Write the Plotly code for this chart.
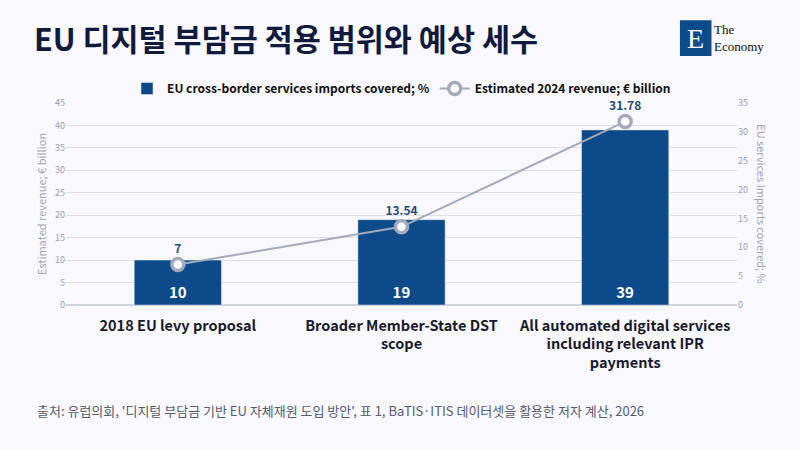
import plotly.graph_objects as go

# 데이터
categories = ["2018 EU levy proposal",
              "Broader Member-State DST<br>scope",
              "All automated digital services<br>including relevant IPR<br>payments"]
imports_covered = [10, 19, 39]        # %
revenue_2024 = [7, 13.54, 31.78]      # € billion

font_kr = "Noto Sans CJK KR"
navy = "#0d4a8a"
grey_line = "#a3aabb"

fig = go.Figure()

# 막대: 수입 비중
fig.add_trace(go.Bar(
    name="EU cross-border services imports covered; %",
    x=categories, y=imports_covered,
    marker_color=navy, width=0.39,
    text=[str(v) for v in imports_covered],
    textposition="inside", insidetextanchor="start",
    textfont=dict(color="white", size=15, family=font_kr, weight="bold"),
    yaxis="y"))

# 선: 예상 세수
fig.add_trace(go.Scatter(
    name="Estimated 2024 revenue; € billion",
    x=categories, y=revenue_2024,
    mode="lines+markers+text",
    line=dict(color=grey_line, width=2),
    marker=dict(size=12, color="white", line=dict(color=grey_line, width=3.5)),
    text=["%g" % v for v in revenue_2024],
    textposition="top center", cliponaxis=False,
    textfont=dict(color="#1f4e79", size=12, family=font_kr, weight="bold"),
    yaxis="y2"))

fig.update_layout(
    width=800, height=450,
    paper_bgcolor="#f8f8fd", plot_bgcolor="#f8f8fd",
    font=dict(family=font_kr, color="#222"),
    margin=dict(l=66, r=63, t=103, b=145),
    showlegend=True,
    legend=dict(orientation="h", x=0.5, xanchor="center", y=1.0, yanchor="bottom",
                font=dict(size=12, color="#111", family=font_kr, weight="bold"),
                bgcolor="rgba(0,0,0,0)"),
    xaxis=dict(tickfont=dict(size=14.5, color="#1a1a2e", family=font_kr, weight="bold"),
               showgrid=False, ticks="", showline=False, ticklabelstandoff=10),
    yaxis=dict(range=[0, 45], dtick=5, gridcolor="#dde0e8", zeroline=True, zerolinecolor="#d0d3dc",
               tickfont=dict(size=9, color="#9aa0ad"),
               title=dict(text="Estimated revenue; € billion", font=dict(size=11, color="#a0a6b3"), standoff=6)),
    yaxis2=dict(range=[0, 35], dtick=5, overlaying="y", side="right", showgrid=False, zeroline=False,
                tickfont=dict(size=9, color="#9aa0ad")),
)

# 제목, 출처, 로고
fig.add_annotation(text="<b>EU 디지털 부담금 적용 범위와 예상 세수</b>", xref="paper", yref="paper",
                   x=-0.05, y=1.322, xanchor="left", yanchor="middle", showarrow=False,
                   font=dict(size=30.5, color="#0f1a3c", family=font_kr))
fig.add_annotation(text="출처: 유럽의회, '디지털 부담금 기반 EU 자체재원 도입 방안', 표 1, BaTIS·ITIS 데이터셋을 활용한 저자 계산, 2026",
                   xref="paper", yref="paper", x=-0.046, y=-0.52, xanchor="left", yanchor="middle",
                   showarrow=False, font=dict(size=13, color="#555c6e", family=font_kr))
fig.add_annotation(text="EU services imports covered; %", xref="paper", yref="paper",
                   x=1.037, y=0.5, xanchor="center", yanchor="middle", textangle=90, showarrow=False,
                   font=dict(size=11, color="#a0a6b3", family=font_kr))
fig.add_shape(type="rect", xref="paper", yref="paper", x0=0.915, x1=0.962, y0=1.233, y1=1.41,
              fillcolor=navy, line_width=0)
fig.add_annotation(text="E", xref="paper", yref="paper", x=0.9385, y=1.318, xanchor="center",
                   yanchor="middle", showarrow=False,
                   font=dict(size=28, color="white", family="Liberation Serif"))
fig.add_annotation(text="The<br>Economy", xref="paper", yref="paper", x=0.963, y=1.322,
                   xanchor="left", yanchor="middle", align="left", showarrow=False,
                   font=dict(size=13, color="#111", family="Liberation Serif"))

fig.write_html("out.html", config={"displayModeBar": False},
               post_script="document.body.style.margin='0';")
